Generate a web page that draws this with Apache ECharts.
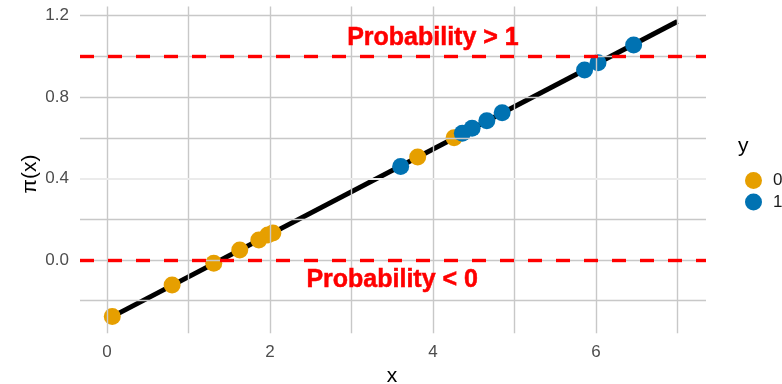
<!DOCTYPE html>
<html>
<head>
<meta charset="utf-8">
<script src="https://cdn.jsdelivr.net/npm/echarts@6/dist/echarts.min.js"></script>
<style>html,body{margin:0;padding:0;background:#fff}#c{width:782px;height:384px}</style>
</head>
<body>
<div id="c"></div>
<script>
// Observations, group y = 0
const x0 = [0.066, 0.80, 1.311, 1.63, 1.864, 1.974, 2.036, 3.813, 4.259];
const p0 = [-0.278, -0.123, -0.016, 0.049, 0.098, 0.123, 0.133, 0.506, 0.600];
// Observations, group y = 1
const x1 = [3.604, 4.361, 4.48, 4.661, 4.849, 5.86, 6.025, 6.462];
const p1 = [0.459, 0.622, 0.647, 0.684, 0.723, 0.933, 0.969, 1.056];
// Fitted linear probability line
const lineX = [0.066, 7];
const lineY = [-0.278, 1.171];
// Reference levels
const refLevels = [0, 1];
// Annotations
const noteX = [4, 3.5];
const noteY = [1.09, -0.1];
const noteText = ['Probability > 1', 'Probability < 0'];
// Ticks / grid
const xMajor = [0, 2, 4, 6];
const xMinor = [1, 3, 5, 7];
const yMajor = [0, 0.4, 0.8, 1.2];
const yMinor = [-0.2, 0.2, 0.6, 1.0];
const legendNames = ['0', '1'];

const FONT = 'Liberation Sans, Arial, Helvetica, sans-serif';
const chart = echarts.init(document.getElementById('c'), null, {renderer: 'canvas'});

const gridLines = [];
xMajor.concat(xMinor).forEach(v => gridLines.push({xAxis: v, lineStyle: {color: '#c8c8c8', width: 1.4, type: 'solid'}}));
yMajor.concat(yMinor).forEach(v => gridLines.push({yAxis: v, lineStyle: {color: v === 0.4 ? '#ebebeb' : '#c8c8c8', width: v === 0.4 ? 2 : 1.4, type: 'solid'}}));

chart.setOption({
  animation: false,
  backgroundColor: '#fff',
  grid: {left: 80, top: 6.5, width: 626, height: 326.8, containLabel: false},
  xAxis: {
    type: 'value', min: -0.33, max: 7.35,
    splitLine: {show: false}, axisLine: {show: false}, axisTick: {show: false},
    axisLabel: {customValues: xMajor, color: '#4d4d4d', fontSize: 17, fontFamily: FONT, margin: 11}
  },
  yAxis: {
    type: 'value', min: -0.36, max: 1.245,
    splitLine: {show: false}, axisLine: {show: false}, axisTick: {show: false},
    axisLabel: {customValues: yMajor, color: '#4d4d4d', fontSize: 17, fontFamily: FONT, margin: 11,
      formatter: v => v.toFixed(1)}
  },
  legend: {
    data: legendNames, orient: 'vertical', left: 740, top: 167,
    icon: 'circle', itemWidth: 17, itemHeight: 17, itemGap: 4.6,
    textStyle: {color: '#1a1a1a', fontSize: 17, fontFamily: FONT, padding: [0, 0, 0, 6]}
  },
  graphic: [
    {type: 'text', left: 738, top: 136, style: {text: 'y', fontSize: 21, fontFamily: FONT, fill: '#000'}},
    {type: 'text', x: 392, y: 376, style: {text: 'x', fontSize: 21, fontFamily: FONT, fill: '#000', align: 'center', verticalAlign: 'middle'}},
    {type: 'text', x: 30, y: 174, rotation: Math.PI / 2, style: {text: 'π(x)', fontSize: 21, fontFamily: FONT, fill: '#000', align: 'center', verticalAlign: 'middle'}}
  ],
  series: [
    {type: 'line', data: [], z: 1, silent: true,
      markLine: {silent: true, symbol: ['none', 'none'], label: {show: false}, animation: false, data: gridLines}},
    {type: 'line', data: [], z: 2, silent: true,
      markLine: {silent: true, symbol: ['none', 'none'], label: {show: false}, animation: false,
        lineStyle: {color: '#ff0000', width: 3.4, type: [14, 14], opacity: 1},
        data: refLevels.map(v => ({yAxis: v}))}},
    {type: 'line', z: 3, data: lineX.map((v, i) => [v, lineY[i]]), showSymbol: false, symbol: 'none',
      lineStyle: {color: '#000', width: 5}, silent: true},
    {name: '0', type: 'scatter', z: 4, data: x0.map((v, i) => [v, p0[i]]), symbolSize: 17,
      itemStyle: {color: '#E69F00', opacity: 1}},
    {name: '1', type: 'scatter', z: 4, data: x1.map((v, i) => [v, p1[i]]), symbolSize: 17,
      itemStyle: {color: '#0072B2', opacity: 1}},
    {type: 'scatter', z: 5, symbolSize: 0, silent: true,
      data: noteX.map((v, i) => ({value: [v, noteY[i]], name: noteText[i]})),
      label: {show: true, position: 'inside', formatter: p => p.name, color: '#ff0000', opacity: 1,
        textBorderColor: '#ff0000', textBorderWidth: 0.5,
        fontSize: 25, fontWeight: 'bold', fontFamily: FONT}}
  ]
});
</script>
</body>
</html>
